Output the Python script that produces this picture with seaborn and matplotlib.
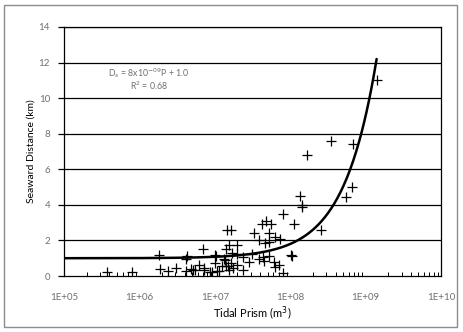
import numpy as np
import pandas as pd
import matplotlib
matplotlib.use("Agg")
import matplotlib.pyplot as plt
import seaborn as sns
from matplotlib.patches import Rectangle
from matplotlib.ticker import LogLocator, FixedLocator

# Observed estuaries: tidal prism (m^3) and seaward distance (km)
prism = [3.75e5, 7.9e5, 1.8e6, 1.87e6, 2.37e6, 3.1e6, 4.2e6, 4.2e6, 4.3e6, 4.9e6,
         5.5e6, 6.2e6, 7.0e6, 7.2e6, 9.1e6, 1.0e7, 1.0e7, 1.06e7, 1.69e8, 1.35e8,
         1.42e8, 1.45e8, 8.1e7, 1.12e8, 4.2e7, 4.8e7, 5.6e7, 1.47e7, 1.66e7, 3.3e7,
         3.9e7, 5.2e7, 6.3e7, 7.3e7, 5.2e7, 4.6e7, 1.4e7, 1.55e7, 2.0e7, 1.68e7,
         2.0e7, 2.4e7, 3.1e7, 3.8e7, 4.3e7, 5.2e7, 4.5e7, 6.1e7, 7.1e7, 6.3e7,
         1.06e8, 1.04e8, 8.1e7, 2.8e7, 2.4e7, 1.04e7, 1.33e7, 1.36e7, 1.4e7, 1.23e7,
         1.5e7, 1.66e7, 1.76e7, 2.0e7, 1.56e7, 1.13e7, 7.2e6, 8.6e6, 5.2e6, 1.43e9,
         3.47e8, 6.9e8, 6.7e8, 5.5e8, 2.6e8]
distance = [0.22, 0.2, 1.2, 0.39, 0.3, 0.45, 0.3, 0.95, 1.1, 0.39,
            0.32, 0.63, 1.5, 0.35, 0.2, 1.2, 0.73, 0.3, 6.8, 4.5,
            3.9, 4.0, 3.5, 2.9, 2.9, 3.1, 2.9, 2.6, 2.6, 2.4,
            2.0, 2.4, 2.2, 2.1, 1.9, 1.85, 1.5, 1.75, 1.75, 1.3,
            1.25, 1.07, 1.25, 0.95, 1.05, 1.15, 0.82, 0.79, 0.6, 0.48,
            1.15, 1.2, 0.17, 0.77, 0.32, 1.1, 0.95, 0.9, 0.58, 0.54,
            0.54, 0.73, 0.45, 0.63, 0.35, 0.26, 0.45, 0.2, 0.32, 11.0,
            7.6, 7.4, 5.0, 4.45, 2.58]

# Linear fit D_s = a*P + b
slope = 8e-9
intercept = 1.0
fit_range = [1e5, 1.4e9]

x_ticks = [1e5, 1e6, 1e7, 1e8, 1e9, 1e10]
x_tick_labels = ["1E+05", "1E+06", "1E+07", "1E+08", "1E+09", "1E+10"]
y_ticks = [0, 2, 4, 6, 8, 10, 12, 14]

obs = pd.DataFrame({"prism": prism, "distance": distance})
p_fit = np.logspace(np.log10(fit_range[0]), np.log10(fit_range[1]), 400)
fit = pd.DataFrame({"prism": p_fit, "distance": slope * p_fit + intercept})

sns.set_theme(style="white")
plt.rcParams["font.family"] = ["Lato", "DejaVu Sans"]

fig = plt.figure(figsize=(4.64, 3.32), dpi=100)
ax = fig.add_axes([64 / 464, 1 - 276 / 332, (441 - 64) / 464, (276 - 27) / 332])

ax.set_xscale("log")
for y in y_ticks[1:]:
    ax.axhline(y, color="black", lw=0.9, zorder=0)

sns.lineplot(data=fit, x="prism", y="distance", ax=ax, color="black", lw=1.8,
             zorder=3, legend=False)
sns.scatterplot(data=obs, x="prism", y="distance", ax=ax, marker="+", s=45,
                color="black", linewidth=0.9, zorder=4, legend=False)

ax.set_xlim(1e5, 1e10)
ax.set_ylim(0, 14)
ax.xaxis.set_major_locator(FixedLocator(x_ticks))
ax.set_xticklabels(x_tick_labels)
ax.xaxis.set_minor_locator(LogLocator(base=10, subs=np.arange(2, 10), numticks=20))
ax.xaxis.set_minor_formatter(plt.NullFormatter())
ax.set_yticks(y_ticks)

for side in ["left", "bottom", "right", "top"]:
    ax.spines[side].set_visible(True)
    ax.spines[side].set_color("black")
    ax.spines[side].set_linewidth(0.9)

ax.tick_params(axis="x", which="major", direction="out", length=4, width=0.9,
               color="black", labelsize=7, labelcolor="#707070", pad=8)
ax.tick_params(axis="x", which="minor", direction="in", length=3, width=0.7,
               color="black", bottom=True)
ax.tick_params(axis="y", which="major", direction="out", length=4, width=0.9,
               color="black", labelsize=7, labelcolor="#707070", pad=6, left=True)

ax.set_xlabel("Tidal Prism (m$^3$)", fontsize=8, color="black", labelpad=2)
ax.set_ylabel("Seaward Distance (km)", fontsize=7.5, color="black", labelpad=2)

ax.text(0.225, 0.815, "D$_s$ = 8x10$^{-09}$P + 1.0", transform=ax.transAxes,
        ha="center", va="center", fontsize=6.3, color="#707070")
ax.text(0.225, 0.765, "R$^2$ = 0.68", transform=ax.transAxes,
        ha="center", va="center", fontsize=6.3, color="#707070")

fig.patches.append(Rectangle((4 / 464, 1 - 327 / 332), 453 / 464, 322 / 332,
                             transform=fig.transFigure, fill=False,
                             edgecolor="#8c8c8c", lw=1.0))

fig.savefig("out.png", dpi=100)
